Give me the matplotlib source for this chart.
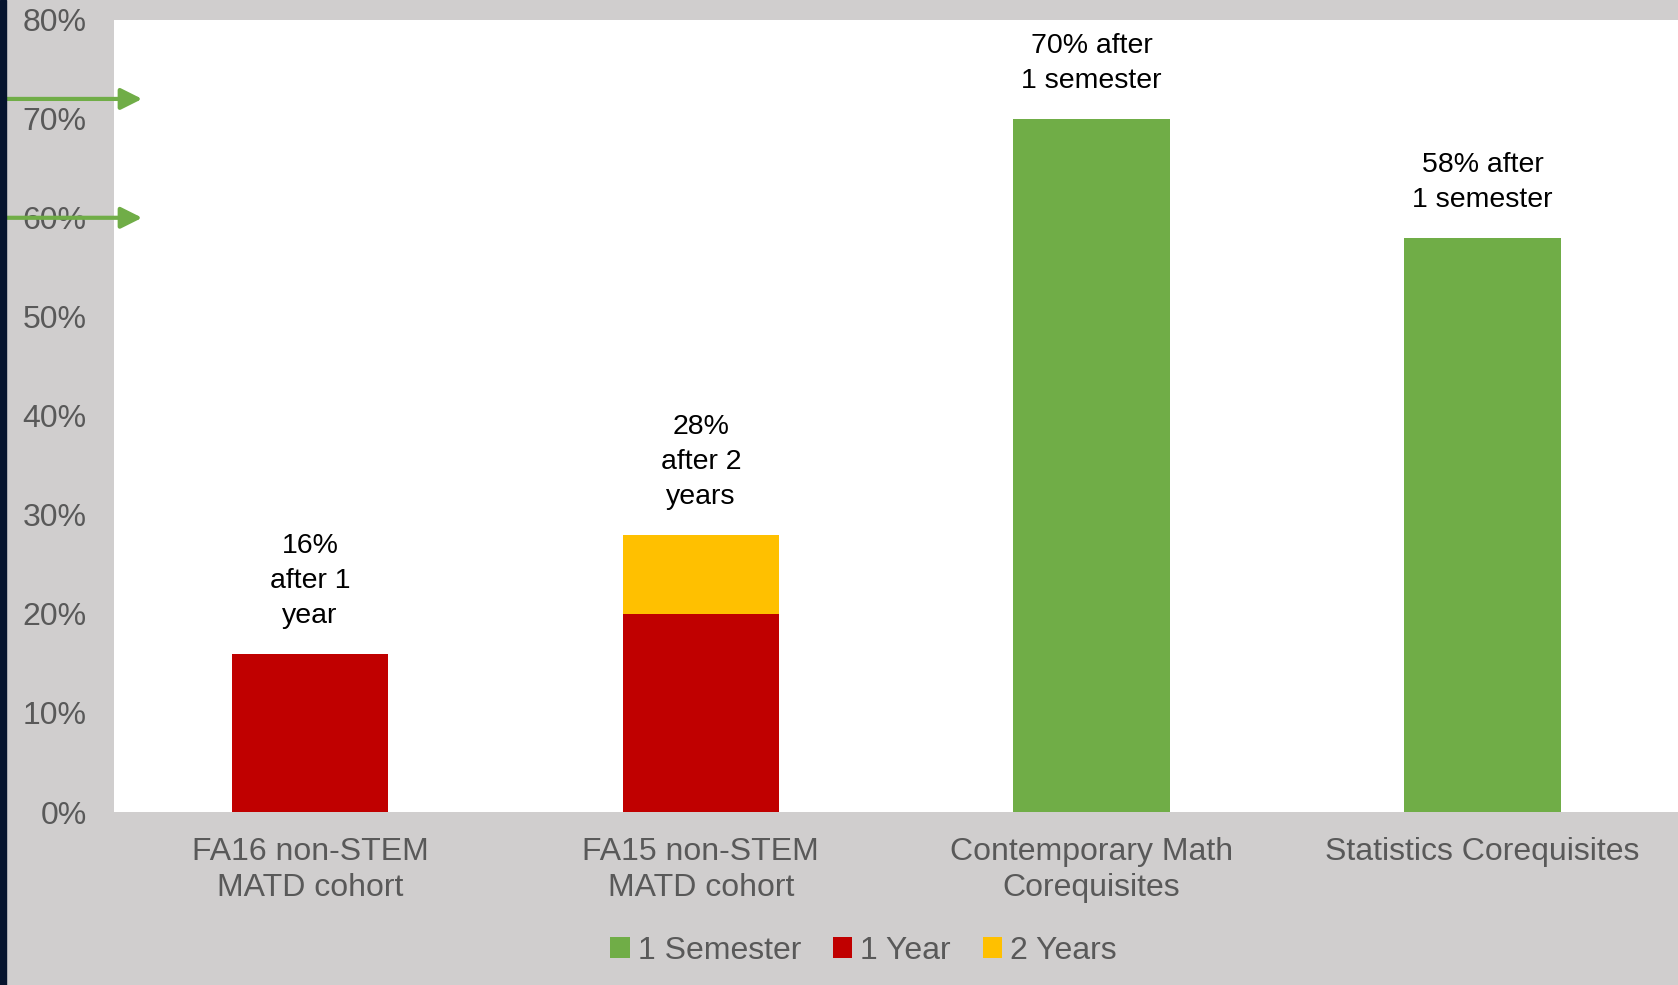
import matplotlib.pyplot as plt
from matplotlib.patches import Rectangle
from matplotlib.ticker import PercentFormatter

plt.rcParams['font.family'] = ['Liberation Sans', 'DejaVu Sans']

categories = ['FA16 non-STEM\nMATD cohort', 'FA15 non-STEM\nMATD cohort',
              'Contemporary Math\nCorequisites', 'Statistics Corequisites']
semester = [0, 0, 0.70, 0.58]   # 1 Semester
one_year = [0.16, 0.20, 0, 0]   # 1 Year
two_years = [0, 0.08, 0, 0]     # 2 Years
bar_labels = ['16%\nafter 1\nyear', '28%\nafter 2\nyears',
              '70% after\n1 semester', '58% after\n1 semester']
arrow_levels = [0.72, 0.60]

green = '#70AD47'
red = '#C00000'
yellow = '#FFC000'
gray_txt = '#595959'
bg = '#D0CECE'

fig = plt.figure(figsize=(16.78, 9.85), dpi=100, facecolor=bg)
# dark strip on the left edge
fig.patches.append(Rectangle((0, 0), 0.0036, 1, transform=fig.transFigure,
                             color='#06142e', zorder=0))

ax = fig.add_axes([0.0682, 0.1756, 0.9318, 0.8044])
ax.set_facecolor('white')

x = range(len(categories))
w = 0.4
ax.bar(x, semester, w, color=green, label='1 Semester')
ax.bar(x, one_year, w, color=red, label='1 Year')
ax.bar(x, two_years, w, bottom=one_year, color=yellow, label='2 Years')

totals = [s + a + b for s, a, b in zip(semester, one_year, two_years)]
for i, (t, lab) in enumerate(zip(totals, bar_labels)):
    ax.annotate(lab, (i, t), xytext=(0, 18), textcoords='offset points',
                ha='center', va='bottom', fontsize=20.5, color='black',
                linespacing=1.45)

ax.set_xlim(-0.5, 3.5)
ax.set_ylim(0, 0.8)
ax.set_yticks([i / 10 for i in range(9)])
ax.yaxis.set_major_formatter(PercentFormatter(1.0, decimals=0))
ax.set_xticks(list(x))
ax.set_xticklabels(categories, linespacing=1.25)
ax.tick_params(axis='y', length=0, pad=20, labelsize=23, labelcolor=gray_txt)
ax.tick_params(axis='x', length=0, pad=18, labelsize=23, labelcolor=gray_txt)
for s in ax.spines.values():
    s.set_visible(False)

for lvl in arrow_levels:
    ax.annotate('', xy=(0.0195, lvl), xycoords=('axes fraction', 'data'),
                xytext=(-0.08, lvl), textcoords=('axes fraction', 'data'),
                arrowprops=dict(arrowstyle='-|>', color=green, lw=3,
                                mutation_scale=32),
                annotation_clip=False)

ax.legend(loc='center', bbox_to_anchor=(0.479, -0.175), ncol=3, frameon=False,
          fontsize=23, labelcolor=gray_txt, handlelength=0.6, handleheight=0.6,
          handletextpad=0.25, columnspacing=1.0)

fig.savefig('out.png', dpi=100, facecolor=bg)
